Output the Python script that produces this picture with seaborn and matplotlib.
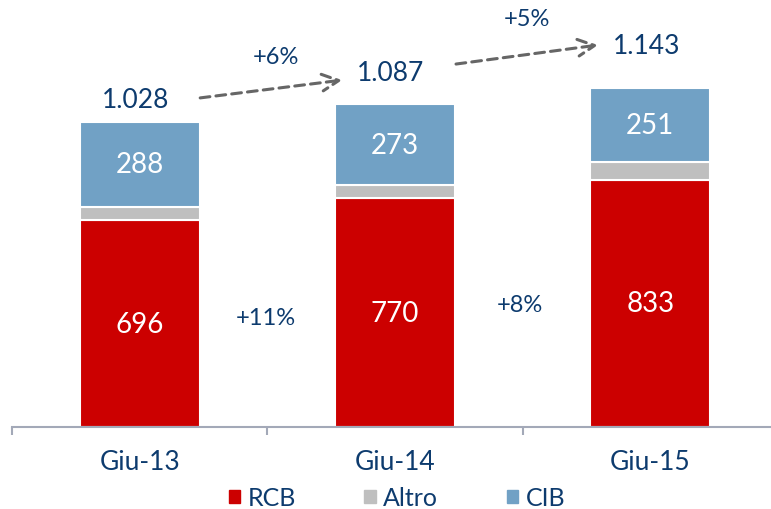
"""Barre impilate RCB / Altro / CIB per Giu-13, Giu-14, Giu-15."""
import numpy as np
import pandas as pd
import matplotlib
matplotlib.use("Agg")
import matplotlib.pyplot as plt
from matplotlib.patches import Patch
import seaborn as sns

PERIODI = ["Giu-13", "Giu-14", "Giu-15"]
RCB = [696, 770, 833]
ALTRO = [44, 44, 59]
CIB = [288, 273, 251]
TOTALI = ["1.028", "1.087", "1.143"]
CRESCITA_TOT = ["+6%", "+5%"]
CRESCITA_RCB = ["+11%", "+8%"]

COLORI = {"RCB": "#CC0000", "Altro": "#BFBFBF", "CIB": "#71A1C5"}
BLU = "#0D3B6E"
ASSE = "#A3A9B8"

sns.set_theme(style="white")
plt.rcParams["font.family"] = ["Lato", "DejaVu Sans"]

df = pd.DataFrame({"periodo": PERIODI, "RCB": RCB, "Altro": ALTRO, "CIB": CIB})
df["base_altro"] = df["RCB"]
df["base_cib"] = df["RCB"] + df["Altro"]

fig = plt.figure(figsize=(7.71, 5.10), dpi=100)
ax = fig.add_axes([12 / 771, 82 / 510, 759 / 771, 428 / 510])

larg = 0.47
kw = dict(width=larg, edgecolor="white", linewidth=1.5, errorbar=None, ax=ax)
sns.barplot(data=df, x="periodo", y="RCB", color=COLORI["RCB"], saturation=1, **kw)
sns.barplot(data=df, x="periodo", y="Altro", bottom=df["base_altro"],
            color=COLORI["Altro"], saturation=1, **kw)
sns.barplot(data=df, x="periodo", y="CIB", bottom=df["base_cib"],
            color=COLORI["CIB"], saturation=1, **kw)

ax.bar_label(ax.containers[0], labels=[str(v) for v in RCB], label_type="center",
             color="white", fontsize=20)
ax.bar_label(ax.containers[2], labels=[str(v) for v in CIB], label_type="center",
             color="white", fontsize=20)

# totali sopra le barre (offset in punti, posizionati a mano come nell'originale)
tot = df["RCB"] + df["Altro"] + df["CIB"]
for i, (t, off) in enumerate(zip(TOTALI, [16, 23, 30])):
    ax.annotate(t, (i, tot[i]), xytext=(-3, off), textcoords="offset points",
                ha="center", va="center", color=BLU, fontsize=19)

# frecce tratteggiate tra i totali
for (x0, y0, x1, y1) in [(0.237, 1108, 0.793, 1168), (1.239, 1222, 1.795, 1286)]:
    ax.annotate("", xy=(x1, y1), xytext=(x0, y0),
                arrowprops=dict(arrowstyle="->,head_length=1.0,head_width=0.5",
                                color="#666666", lw=2.2, linestyle=(0, (3.2, 2.0)),
                                shrinkA=0, shrinkB=0))
for txt, (x, y) in zip(CRESCITA_TOT, [(0.534, 1249), (1.517, 1377)]):
    ax.text(x, y, txt, ha="center", va="center", color=BLU, fontsize=17)
for txt, (x, y) in zip(CRESCITA_RCB, [(0.495, 370), (1.489, 414)]):
    ax.text(x, y, txt, ha="center", va="center", color=BLU, fontsize=17)

ax.set_xlim(-0.5, 2.5 - 7 / 255.5)
ax.set_ylim(0, 1441)
ax.set_xlabel("")
ax.set_ylabel("")
ax.set_yticks([])
for s in ["top", "right", "left"]:
    ax.spines[s].set_visible(False)
ax.spines["bottom"].set_color(ASSE)
ax.spines["bottom"].set_linewidth(1.5)
ax.set_xticks(range(len(PERIODI)))
ax.set_xticklabels(PERIODI, color=BLU, fontsize=19)
ax.tick_params(axis="x", which="major", length=0, pad=16)
ax.set_xticks([-0.5, 0.5, 1.5], minor=True)
ax.tick_params(axis="x", which="minor", length=6, width=1.5, color=ASSE,
               direction="out", bottom=True)

handles = [Patch(color=COLORI[k], label=k) for k in ["RCB", "Altro", "CIB"]]
fig.legend(handles=handles, loc="center", bbox_to_anchor=(397 / 771, 1 - 499 / 510),
           ncol=3, frameon=False, fontsize=18, labelcolor=BLU,
           handlelength=0.45, handleheight=0.45, handletextpad=0.3,
           columnspacing=2.75)

fig.savefig("out.png", dpi=100)
